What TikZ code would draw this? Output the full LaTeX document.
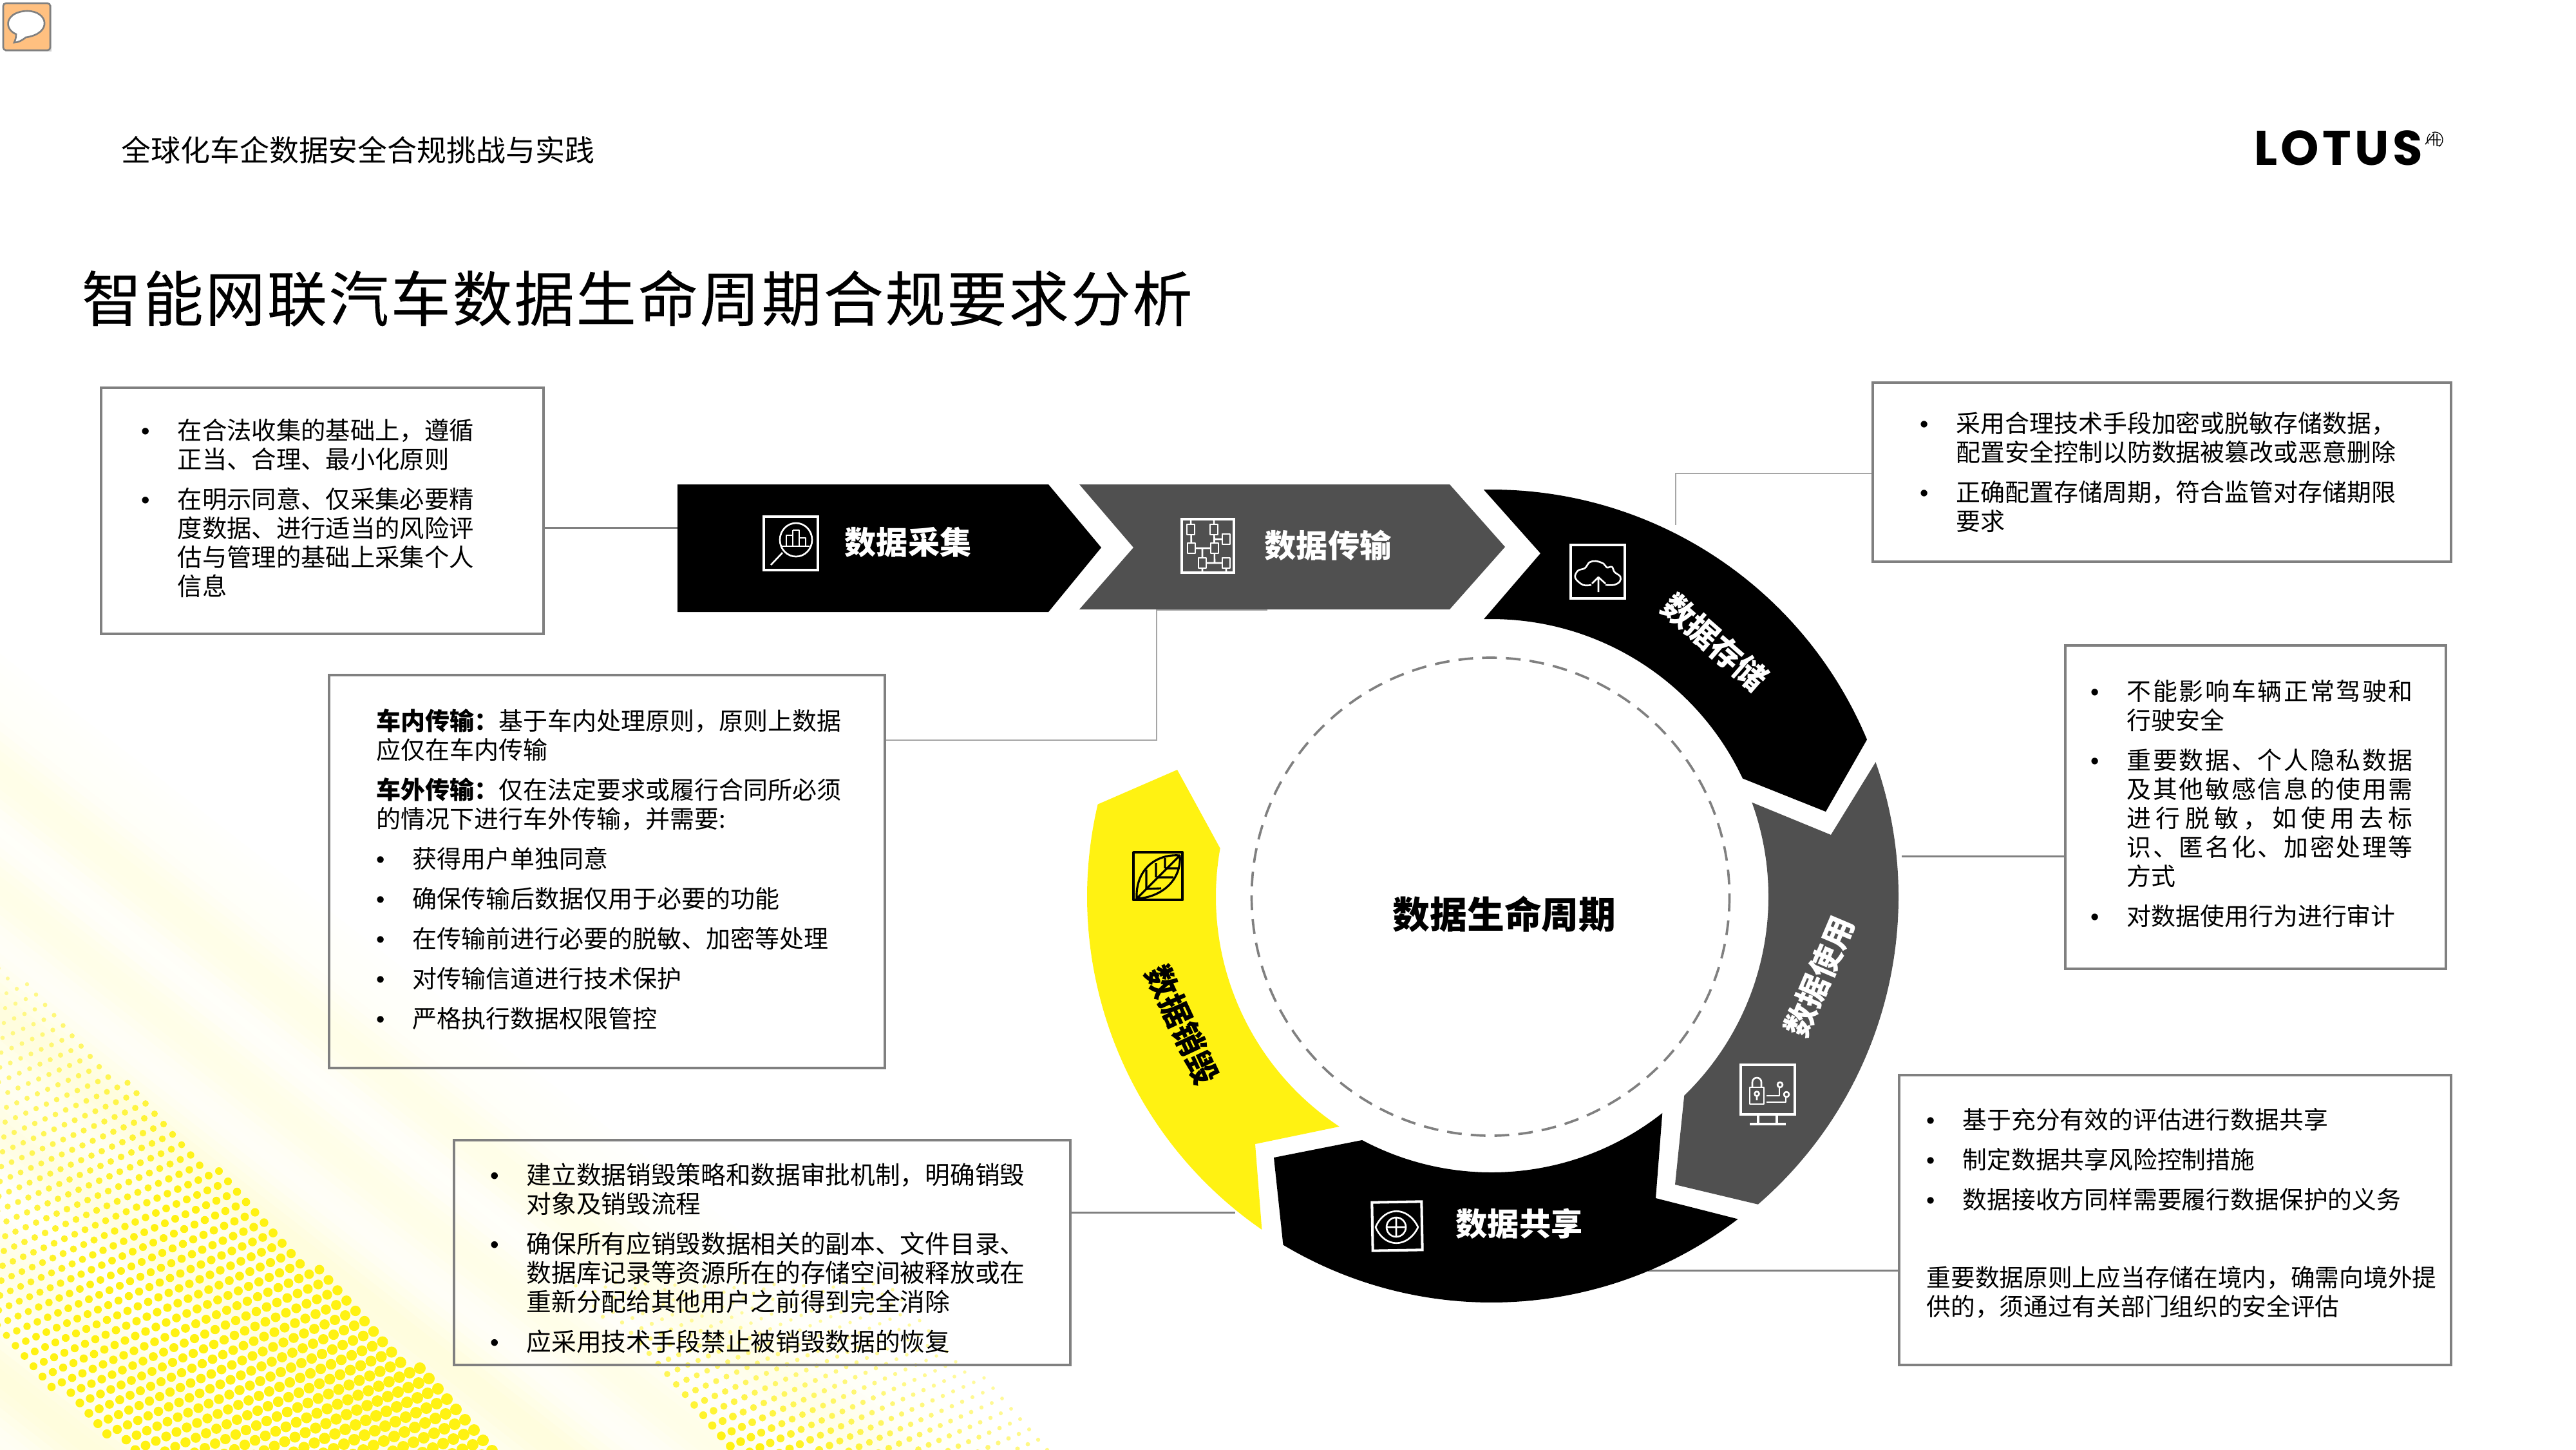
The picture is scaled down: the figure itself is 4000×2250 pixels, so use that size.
\documentclass[tikz,border=0pt]{standalone}
\usepackage{fontspec}
\usetikzlibrary{calc}
\setmainfont{Noto Sans CJK SC}
\newfontfamily\titlef[LetterSpace=3,FakeBold=0.12]{Noto Sans CJK SC}
\newfontfamily\bulf{Liberation Sans}
\newfontfamily\logof[LetterSpace=7]{Poppins}
\definecolor{ly}{HTML}{FFF212}
\definecolor{gd}{HTML}{505050}
\definecolor{fr}{HTML}{808080}
\definecolor{cm}{HTML}{FFC080}
% bullet hanging left of the text edge
\newcommand\bl{\llap{{\bulf •}\hspace{12.2pt}}}
% a line stretched over the full measure
\def\sprd#1{#1\sprx}
\def\sprx#1{\ifx#1\relax\else\hfil#1\expandafter\sprx\fi}
\newcommand\jl[1]{\hbox to 126.3pt{\sprd#1\relax}}
\newcommand\pg{\\[4.84pt]}
\tikzset{
  frame/.style={draw=fr,line width=1.3pt,inner sep=0pt,rectangle},
  conn/.style={draw=fr,line width=0.85pt},
  connl/.style={draw=fr!70,line width=0.7pt},
  body/.style={inner sep=0pt,anchor=north west,align=left,text=black},
  stagew/.style={inner sep=0pt,text=white,font=\fontsize{14pt}{16pt}\selectfont\bfseries},
  stagek/.style={inner sep=0pt,text=black,font=\fontsize{14pt}{16pt}\selectfont\bfseries},
  icw/.style={draw=white,line width=0.75pt,line join=round},
  icwf/.style={draw=white,line width=1.15pt},
  ick/.style={draw=black,line width=0.9pt,line join=round},
}
\newcommand\bx[5]{%
  \pgfmathsetmacro\bw{(#4-#2)*0.01}\pgfmathsetmacro\bh{(#5-#3)*0.01}%
  \node[frame,minimum width=\bw cm,minimum height=\bh cm] (#1) at ({(#2+#4)/2},{(#3+#5)/2}) {};}
\newcommand\btext[5][10.8]{\node[body,font=\fontsize{#1pt}{12.8pt}\selectfont] (#2) at (#3,{#4-19.5}) {\rule{0pt}{9.8pt}#5};}
\begin{document}
\begin{tikzpicture}[x=0.01cm,y=-0.01cm]
\useasboundingbox (0,0) rectangle (4000,2250);
\fill[white] (0,0) rectangle (4000,2250);
%% background wash and halftone
\begin{scope}
\clip (0,0) rectangle (4000,2250);
\foreach \c in {1000,1015,...,2250}{
  \pgfmathsetmacro\ps{min(1,(\c-1000)/250)*(8+4*sin(1.9*\c)+2.5*sin(0.7*\c+40))}
  \fill[ly!\ps!white] (0,\c) -- (2100,\c+1638) -- (0,\c+1638) -- cycle;
}
\foreach \i in {-40,...,60}{\foreach \j in {-5,...,75}{
  \edef\X{\the\numexpr 30*\i+14*\j\relax}
  \edef\Y{\the\numexpr 9*\i+16*\j+1480\relax}
  \ifnum\Y<2265 \ifnum\X>-10
    \edef\U{\the\numexpr\Y-1486-\X*977/1000\relax}
    \edef\V{\the\numexpr\Y-2088-\X*85/100\relax}
    \ifnum\U>-1 \ifnum\V<1
      \edef\Sx{\the\numexpr(\X+\Y-1486)*1000/1300\relax}
      \ifnum\Sx>1000 \edef\Sx{1000}\fi
      \edef\Rr{\the\numexpr 28+62*\Sx/1000\relax}
      \edef\Pp{\the\numexpr 40+60*\Sx/500\relax}
      \ifnum\Pp>100 \edef\Pp{100}\fi
      \fill[ly!\Pp!white] (\X,\Y) circle[radius={\Rr*0.02845pt}];
    \fi\fi
    \edef\LL{\the\numexpr\X-1017-(\Y-2127)*97/100\relax}
    \edef\RR{\the\numexpr 1497+(\Y-2107)*98/100-\X\relax}
    \ifnum\Y>1990 \ifnum\LL>-1 \ifnum\RR>-1
      \edef\Sx{\the\numexpr(\Y-1990)*1000/240*(1000-\LL*1000/650)/1000\relax}
      \ifnum\Sx<150 \edef\Sx{150}\fi
      \ifnum\Sx>1000 \edef\Sx{1000}\fi
      \edef\Rr{\the\numexpr 20+48*\Sx/1000\relax}
      \edef\Pp{\the\numexpr 30+70*\Sx/1000\relax}
      \fill[ly!\Pp!white] (\X,\Y) circle[radius={\Rr*0.02845pt}];
    \fi\fi\fi
  \fi\fi
}}
\end{scope}
%% comment icon
\fill[black!18] (8,8) rectangle (80,80);
\draw[fill=cm,draw=fr,line width=0.75pt,rounded corners=1.2pt] (5,5) rectangle (78,78);
\draw[fill=white,draw=fr,line width=0.75pt] (25,53) .. controls (5,45) and (8,18) .. (42,17)
  .. controls (75,17) and (82,52) .. (40,58) .. controls (34,63) and (28,66) .. (22,66)
  .. controls (24,62) and (25,58) .. (25,53) -- cycle;
%% header
\node[inner sep=0pt,anchor=west,font=\fontsize{13.05pt}{15pt}\selectfont] (sub) at (188,233) {全球化车企数据安全合规挑战与实践};
\node[inner sep=0pt,anchor=west,font=\fontsize{26.5pt}{30pt}\titlef] (ttl) at (126,463) {智能网联汽车数据生命周期合规要求分析};
\node[inner sep=0pt,font=\fontsize{21.5pt}{24pt}\logof\bfseries] (logo) at (3631,230) {LOTUS};
\draw[line width=0.35pt] (3781,217) ++(60:12) arc[start angle=60,end angle=-110,radius=12];
\draw[line width=0.35pt] (3781,217) ++(-130:12) arc[start angle=-130,end angle=-210,radius=12];
\draw[line width=0.4pt] (3766,224) -- (3779,208) -- (3779,226) (3772,217) -- (3790,217) (3784,208) -- (3784,226) -- (3790,226);
%% boxes
\bx{bCollect}{157}{602}{844}{984}
\bx{bTrans}{511}{1048}{1374}{1658}
\bx{bDestroy}{705}{1770}{1662}{2119}
\bx{bStore}{2908}{594}{3806}{872}
\bx{bUse}{3207}{1002}{3798}{1504}
\bx{bShare}{2949}{1669}{3806}{2119}
%% connector ends
\coordinate (eCollect) at (1052,819);
\coordinate (kTransA) at (1796,1149);
\coordinate (kTransB) at (1796,947);
\coordinate (eTrans) at (1968,947);
\coordinate (kStore) at (2602,735);
\coordinate (eStore) at (2602,815);
\coordinate (eUse) at (2953,1329);
\coordinate (eShare) at (2559,1972);
\coordinate (eDestroy) at (1918,1882);
\draw[conn] (bCollect.east |- eCollect) -- (eCollect);
\draw[connl] (bTrans.east |- kTransA) -- (kTransA) -- (kTransB) -- (eTrans);
\draw[connl] (bStore.west |- kStore) -- (kStore) -- (eStore);
\draw[conn] (bUse.west |- eUse) -- (eUse);
\draw[conn] (bShare.west |- eShare) -- (eShare);
\draw[conn] (bDestroy.east |- eDestroy) -- (eDestroy);
%% chevrons
\fill[black] (1052,752) -- (1628,752) -- (1710,850) -- (1628,950) -- (1052,950) -- cycle;
\fill[gd] (1676,752) -- (2251,752) -- (2337,849) -- (2251,946) -- (1676,946) -- (1760,850) -- cycle;
%% ring
\coordinate (C) at (2316,1392);
\coordinate (D) at (2314.5,1392);
\fill[black] ($(C)+(-91.1:632)$) arc[start angle=-91.1,end angle=-22.7,radius=632]
  -- (2835,1260) -- ($(C)+(-25.2:431)$) arc[start angle=-25.2,end angle=-91.6,radius=431]
  -- (2392,859) -- cycle;
\fill[gd] ($(C)+(-19.3:632)$) arc[start angle=-19.3,end angle=49.1,radius=632]
  -- (2601,1839) -- ($(C)+(45.9:430)$) arc[start angle=45.9,end angle=-19.9,radius=430]
  -- (2843,1296) -- cycle;
\fill[black] ($(C)+(52.6:630)$) arc[start angle=52.6,end angle=120.9,radius=630]
  -- (1978,1797) -- ($(C)+(118:428)$) arc[start angle=118,end angle=51.7,radius=428]
  -- (2571,1860) -- cycle;
\fill[ly] ($(C)+(193.2:628)$) arc[start angle=193.2,end angle=124.6,radius=628]
  -- (1949,1776) -- ($(C)+(123.5:428)$) arc[start angle=123.5,end angle=190.1,radius=428]
  -- (1828,1195) -- cycle;
\draw[draw=fr,line width=1.05pt,dash pattern=on 6.5pt off 4pt] (D) circle[radius=371];
%% icons
% magnifier
\draw[icwf] (1186,802) rectangle (1270,885);
\draw[icw] (1236,838) ellipse[x radius=25,y radius=26];
\draw[icw] (1214,848) -- (1257,848) (1221,848) -- (1221,831) -- (1231,831) -- (1231,848)
  (1231,823) -- (1241,823) -- (1241,848) (1241,835) -- (1251,835) -- (1251,848) (1231,831) -- (1231,823);
\draw[icw] (1215,858) -- (1197,877);
% flow
\draw[icwf] (1835,806) rectangle (1916,889);
\draw[icw] (1849,806) -- (1850,851) (1885,806) -- (1886,874) (1885,837) -- (1904,837)
  (1850,851) -- (1886,851) (1867,851) -- (1867,889) (1867,874) -- (1904,874) -- (1904,889);
\foreach \qx/\qy in {1849/822,1885/822,1904/837,1850/851,1886/851,1867/874,1904/874}{
  \draw[icw,fill=gd] (\qx-6,\qy-8) rectangle (\qx+6,\qy+8);}
% cloud
\draw[icwf] (2439,846) rectangle (2523,929);
\draw[icw] plot[smooth,tension=0.6] coordinates {(2471,908) (2458,908) (2446,897) (2450,886) (2461,882) (2468,873) (2478,871) (2490,875) (2495,881) (2503,880) (2507,888) (2516,895) (2515,903) (2506,908) (2493,908)};
\draw[icw] (2482,919) -- (2482,896) (2472,906) -- (2482,896) -- (2493,906);
% monitor
\draw[icwf] (2703,1653) rectangle (2787,1730);
\draw[icw,line width=1.1pt] (2730,1730) -- (2730,1745) (2759,1730) -- (2759,1745) (2717,1745) -- (2773,1745);
\draw[icw] (2717,1688) rectangle (2739,1714);
\draw[icw] (2721,1688) -- (2721,1680) arc[start angle=180,end angle=360,radius=7] -- (2735,1688);
\draw[icw] (2728,1698) circle[radius=3.5] (2728,1702) -- (2728,1708);
\draw[icw] (2743,1701) -- (2763,1701) -- (2763,1688) (2743,1711) -- (2773,1711) -- (2773,1703);
\draw[icw] (2764,1684) circle[radius=4] (2774,1699) circle[radius=4];
% eye
\begin{scope}[rotate around={1:(2168,1905)}]
\draw[icwf] (2131,1866) rectangle (2208,1941);
\end{scope}
\draw[icw] (2136,1905) .. controls (2150,1872) and (2186,1872) .. (2202,1905)
  .. controls (2186,1938) and (2150,1938) .. (2136,1905) -- cycle;
\draw[icw] (2168,1905) circle[radius=15] (2153,1905) -- (2183,1905) (2168,1890) -- (2168,1920);
% leaf
\draw[ick,line width=1.1pt] (1760,1323) rectangle (1836,1397);
\draw[ick] (1765,1395) .. controls (1763,1350) and (1795,1325) .. (1832,1328)
  .. controls (1835,1365) and (1805,1393) .. (1765,1395) -- (1832,1328);
\draw[ick] (1780,1380) -- (1780,1350) (1795,1362) -- (1795,1340) (1809,1348) -- (1809,1332)
  (1780,1380) -- (1803,1379) (1797,1362) -- (1822,1362) (1809,1348) -- (1829,1348);
%% stage labels
\node[stagew] (sCollect) at (1410,842) {数据采集};
\node[stagew] (sTrans) at (2062,847) {数据传输};
\node[stagew,rotate=-41] (sStore) at (2663,997) {数据存储};
\node[stagew,rotate=67] (sUse) at (2825,1516) {数据使用};
\node[stagew] (sShare) at (2359,1900) {数据共享};
\node[stagek,rotate=-65] (sDestroy) at (1836,1591) {数据销毁};
\node[inner sep=0pt,font=\fontsize{16.45pt}{18pt}\selectfont\bfseries] (cLife) at (2336,1419) {数据生命周期};
%% box texts
\btext[10.9]{tCollect}{275}{667}{\bl 在合法收集的基础上，遵循\\正当、合理、最小化原则\pg
 \bl 在明示同意、仅采集必要精\\度数据、进行适当的风险评\\估与管理的基础上采集个人\\信息}
\btext[10.8]{tTrans}{584}{1118}{\textbf{车内传输：}基于车内处理原则，原则上数据\\应仅在车内传输\pg
 \textbf{车外传输：}仅在法定要求或履行合同所必须\\的情况下进行车外传输，并需要:\pg
 \hspace*{15.9pt}\bl 获得用户单独同意\pg
 \hspace*{15.9pt}\bl 确保传输后数据仅用于必要的功能\pg
 \hspace*{15.9pt}\bl 在传输前进行必要的脱敏、加密等处理\pg
 \hspace*{15.9pt}\bl 对传输信道进行技术保护\pg
 \hspace*{15.9pt}\bl 严格执行数据权限管控}
\btext[11]{tDestroy}{817}{1823}{\bl 建立数据销毁策略和数据审批机制，明确销毁\\对象及销毁流程\pg
 \bl 确保所有应销毁数据相关的副本、文件目录、\\数据库记录等资源所在的存储空间被释放或在\\重新分配给其他用户之前得到完全消除\pg
 \bl 应采用技术手段禁止被销毁数据的恢复}
\btext[10.78]{tStore}{3037}{656}{\bl 采用合理技术手段加密或脱敏存储数据，\\配置安全控制以防数据被篡改或恶意删除\pg
 \bl 正确配置存储周期，符合监管对存储期限\\要求}
\btext[10.78]{tUse}{3302}{1072}{\bl\jl{不能影响车辆正常驾驶和}\\行驶安全\pg
 \bl\jl{重要数据、个人隐私数据}\\\jl{及其他敏感信息的使用需}\\\jl{进行脱敏，如使用去标}\\\jl{识、匿名化、加密处理等}\\方式\pg
 \bl 对数据使用行为进行审计}
\btext[10.75]{tShare}{3047}{1737}{\bl 基于充分有效的评估进行数据共享\pg
 \bl 制定数据共享风险控制措施\pg
 \bl 数据接收方同样需要履行数据保护的义务}
\btext[10.72]{tShareB}{2991}{1982}{重要数据原则上应当存储在境内，确需向境外提\\供的，须通过有关部门组织的安全评估}
\end{tikzpicture}
\end{document}
